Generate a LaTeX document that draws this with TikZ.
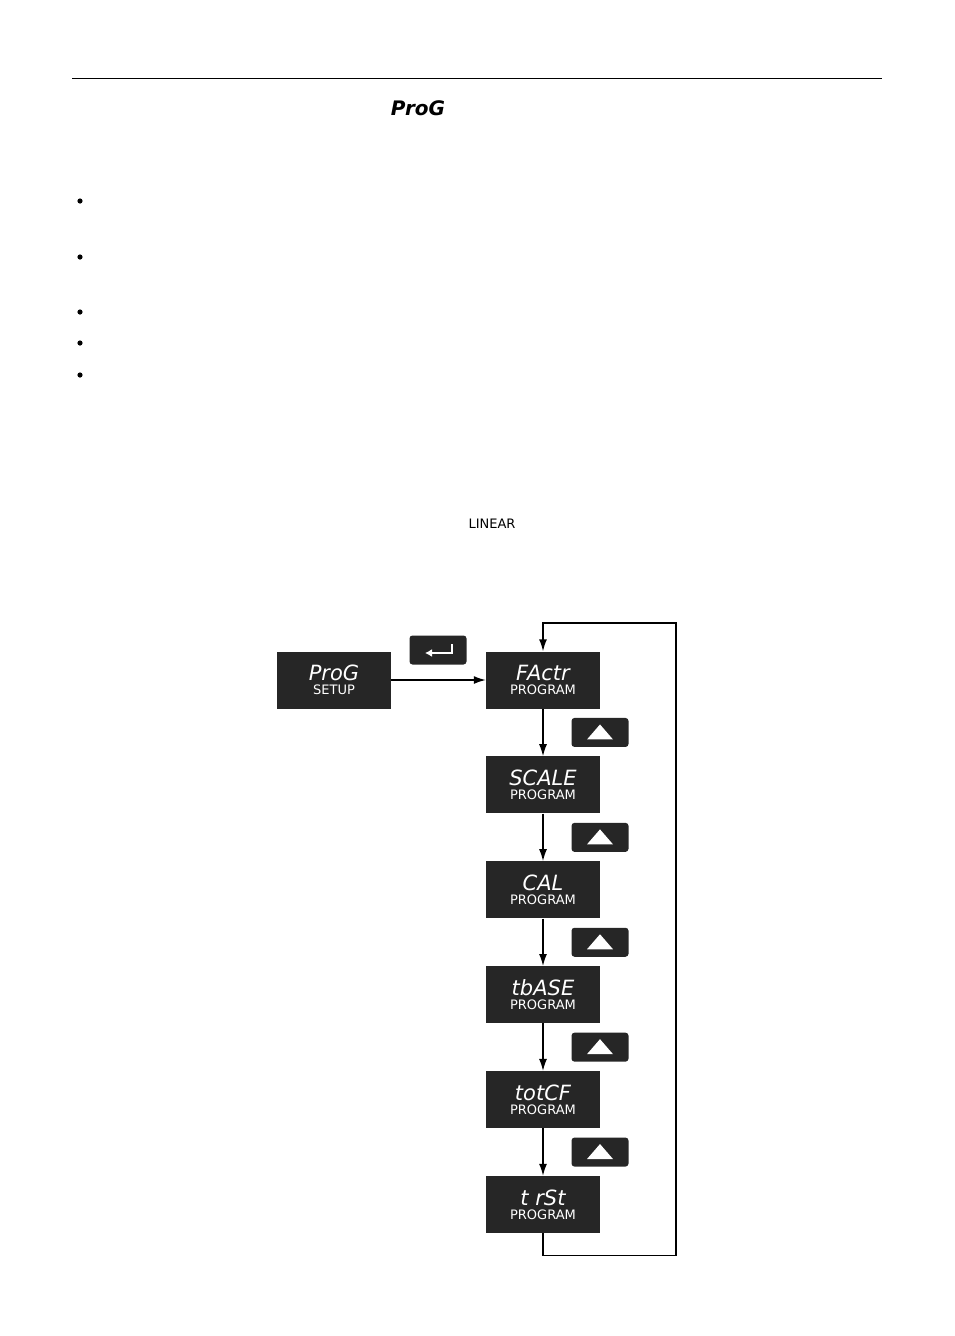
\documentclass[tikz,border=0pt]{standalone}
\usepackage{fontspec}
\setsansfont{DejaVu Sans}
\usepackage{tikz}
\usetikzlibrary{positioning,arrows.meta,calc}
\newcommand{\disptxt}[2]{{\itshape\fontsize{21}{22}\selectfont #1}\\[2pt]{\fontsize{13}{14}\selectfont #2}}

\begin{document}
\begin{tikzpicture}[x=1pt,y=-1pt,
	disp/.style={fill=black!85,minimum width=114pt,minimum height=57pt,inner sep=0pt,
		align=center,text=white,font=\sffamily},
	key/.style={fill=black!85,rounded corners=3pt,minimum width=57pt,minimum height=29pt,inner sep=0pt},
	flow/.style={-{Latex[length=12pt,width=8pt]},line width=1.4pt}]
	\useasboundingbox (0,0) rectangle (954,1336);
	%
	%  PAGE
	%
	\draw[line width=0.6pt] (72,78) -- (882,78);
	\node[font=\sffamily\bfseries\itshape\fontsize{20}{20}\selectfont] (title) at (418,108) {ProG};
	\foreach \y in {201,257,312,343,375}
		\fill (80,\y) circle (2.6pt);
	\node[font=\sffamily\fontsize{13}{13}\selectfont] (lin) at (492,524) {LINEAR};
	%
	%  DISPLAYS
	%
	\node[disp] (prog) at (334,680) {\disptxt{ProG}{SETUP}};
	\node[disp] (fact) at (543,680) {\disptxt{FActr}{PROGRAM}};
	\node[disp,below=47.5pt of fact] (scal) {\disptxt{SCALE}{PROGRAM}};
	\node[disp,below=47.5pt of scal] (cal) {\disptxt{CAL}{PROGRAM}};
	\node[disp,below=47.5pt of cal] (tbas) {\disptxt{tbASE}{PROGRAM}};
	\node[disp,below=47.5pt of tbas] (totc) {\disptxt{totCF}{PROGRAM}};
	\node[disp,below=47.5pt of totc] (trst) {\disptxt{t rSt}{PROGRAM}};
	%
	%  KEYS
	%
	\node[key] (enter) at (438,650) {};
	\draw[white,line width=2pt,-{Latex[length=7pt,width=8pt]}] ([xshift=14pt,yshift=6pt]enter.center) -- ++(0,9) -- ++(-27,0);
	\foreach \a/\b [count=\i] in {fact/scal,scal/cal,cal/tbas,tbas/totc,totc/trst}{
		\node[key] (up\i) at ([xshift=57pt]$(\a.south)!0.5!(\b.north)$) {};
		\fill[white] ([xshift=-13pt,yshift=-7pt]up\i.center) -- ([xshift=13pt,yshift=-7pt]up\i.center) -- ([yshift=8pt]up\i.center) -- cycle;
		\draw[flow] (\a) -- (\b);
	}
	%
	%  CONNECTORS
	%
	\draw[flow] (prog) -- (fact);
	\draw[flow] (trst.south) -- ++(0,22) -| (676,623) -| (fact.north);
\end{tikzpicture}
\end{document}
